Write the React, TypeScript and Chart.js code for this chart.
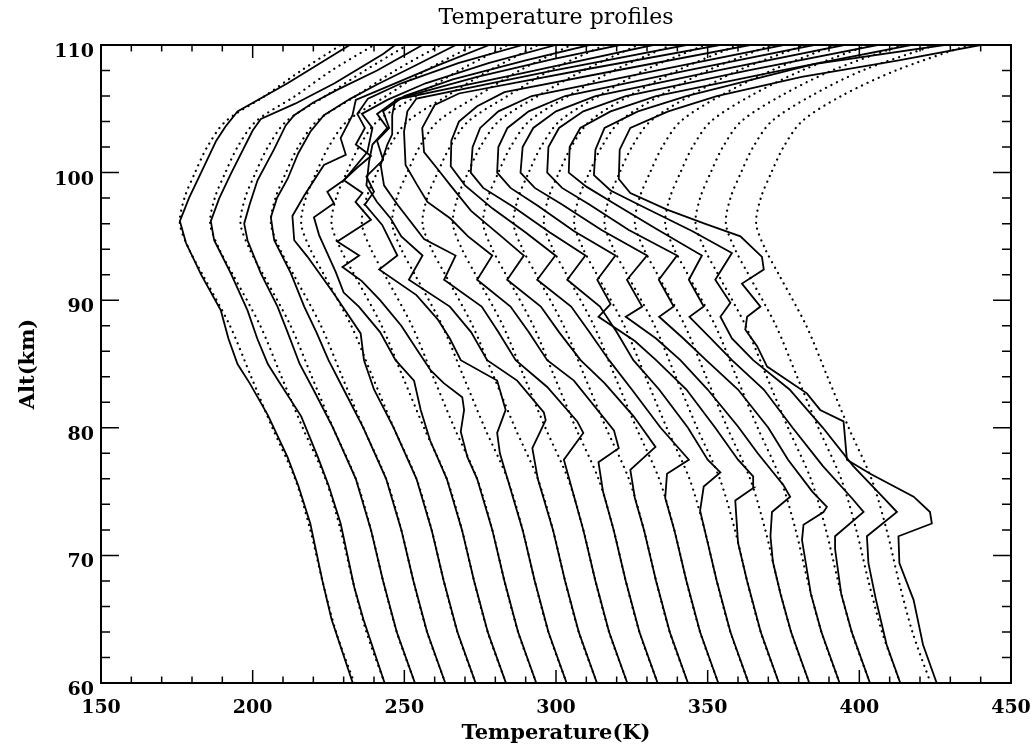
import React, { useEffect, useRef } from "react";
import { Chart, registerables } from "chart.js";

Chart.register(...registerables);

// ---------------- data ----------------
const TITLE = "Temperature profiles";
const X_TITLE = "Temperature(K)";
const Y_TITLE = "Alt(km)";
const X_MIN = 150;
const X_MAX = 450;
const Y_MIN = 60;
const Y_MAX = 110;
const X_MAJOR = 50;
const X_MINOR = 10;
const Y_MAJOR = 10;
const Y_MINOR = 2;

// altitudes (km) of the dotted (reference) profiles
const ALT_DOTTED = [60, 64, 68, 72, 76, 80, 84, 88, 92, 94, 96, 98, 100, 102, 104, 106, 108, 110];

// dotted profiles: temperature (K, with plot offset) at ALT_DOTTED
const DOTTED_01 = [233.5, 227.5, 223, 219, 214, 206.5, 199.5, 192.5, 183.5, 179, 176, 177.5, 181, 185, 191, 204, 216, 229];
const DOTTED_02 = [243.5, 237.5, 233, 229, 224, 216.5, 209.5, 202.5, 193.5, 189, 186, 187.5, 191, 195, 201, 214, 226, 240];
const DOTTED_03 = [253.5, 247.5, 243, 239, 234, 226.5, 219.5, 212.5, 203.5, 199, 196, 197.5, 201, 205, 211, 224, 237, 251];
const DOTTED_04 = [263.5, 257.5, 253, 249, 244, 236.5, 229.5, 222.5, 213.5, 209, 206, 207.5, 211, 215, 221, 234, 247, 262];
const DOTTED_05 = [273.5, 267.5, 263, 259, 254, 246.5, 239.5, 232.5, 223.5, 219, 216, 217.5, 221, 225, 231, 244, 257, 273];
const DOTTED_06 = [283.5, 277.5, 273, 269, 264, 256.5, 249.5, 242.5, 233.5, 229, 226, 227.5, 231, 235, 241, 254, 268, 284];
const DOTTED_07 = [293.5, 287.5, 283, 279, 274, 266.5, 259.5, 252.5, 243.5, 239, 236, 237.5, 241, 245, 251, 264, 278, 294];
const DOTTED_08 = [303.5, 297.5, 293, 289, 284, 276.5, 269.5, 262.5, 253.5, 249, 246, 247.5, 251, 255, 261, 274, 288, 305];
const DOTTED_09 = [313.5, 307.5, 303, 299, 294, 286.5, 279.5, 272.5, 263.5, 259, 256, 257.5, 261, 265, 271, 284, 298, 316];
const DOTTED_10 = [323.5, 317.5, 313, 309, 304, 296.5, 289.5, 282.5, 273.5, 269, 266, 267.5, 271, 275, 281, 294, 309, 327];
const DOTTED_11 = [333.5, 327.5, 323, 319, 314, 306.5, 299.5, 292.5, 283.5, 279, 276, 277.5, 281, 285, 291, 304, 319, 338];
const DOTTED_12 = [343.5, 337.5, 333, 329, 324, 316.5, 309.5, 302.5, 293.5, 289, 286, 287.5, 291, 295, 301, 314, 329, 349];
const DOTTED_13 = [353.5, 347.5, 343, 339, 334, 326.5, 319.5, 312.5, 303.5, 299, 296, 297.5, 301, 305, 311, 324, 340, 360];
const DOTTED_14 = [363.5, 357.5, 353, 349, 344, 336.5, 329.5, 322.5, 313.5, 309, 306, 307.5, 311, 315, 321, 334, 350, 371];
const DOTTED_15 = [373.5, 367.5, 363, 359, 354, 346.5, 339.5, 332.5, 323.5, 319, 316, 317.5, 321, 325, 331, 344, 360, 382];
const DOTTED_16 = [383.5, 377.5, 373, 369, 364, 356.5, 349.5, 342.5, 333.5, 329, 326, 327.5, 331, 335, 341, 354, 371, 392];
const DOTTED_17 = [393.5, 387.5, 383, 379, 374, 366.5, 359.5, 352.5, 343.5, 339, 336, 337.5, 341, 345, 351, 364, 381, 403];
const DOTTED_18 = [403.5, 397.5, 393, 389, 384, 376.5, 369.5, 362.5, 353.5, 349, 346, 347.5, 351, 355, 361, 374, 391, 414];
const DOTTED_19 = [413.5, 407.5, 403, 399, 394, 386.5, 379.5, 372.5, 363.5, 359, 356, 357.5, 361, 365, 371, 384, 401, 425];
const DOTTED_20 = [423.5, 417.5, 413, 409, 404, 396.5, 389.5, 382.5, 373.5, 369, 366, 367.5, 371, 375, 381, 394, 412, 436];

// solid (measured) profiles: [temperature K (with plot offset), altitude km]
const SOLID_01 = [[233, 60], [226, 65], [223, 68], [219, 72.5], [215, 75.5], [211.5, 77.7], [205, 81], [199, 83.5], [195, 85], [192, 87], [189.5, 89.2], [183, 92], [178, 94.5], [176, 96.2], [179, 98], [183, 100], [188, 102.5], [191, 103.6], [195, 104.8], [211.5, 107], [232, 110]];
const SOLID_02 = [[243.5, 60], [236.5, 65], [233.5, 67.5], [229, 72.5], [225, 75.5], [221.5, 77.7], [216, 80.9], [209, 83.5], [205, 85], [201.5, 87], [198.3, 89.2], [192.8, 92.1], [187.3, 94.7], [186.2, 96.2], [189, 98], [192.8, 99.9], [200, 103.3], [202.7, 104.2], [214, 105.4], [227, 107], [243, 109.3], [247, 110]];
const SOLID_03 = [[253.5, 60], [247.5, 64], [243, 68], [239, 72], [234, 76], [226.5, 80], [220, 83], [215.5, 85], [211.5, 87.5], [208.2, 89.5], [202.7, 92.1], [198.3, 94.7], [197.2, 96], [199, 97.5], [201.6, 99.4], [207, 101.8], [210.9, 103.7], [213.7, 104.5], [220, 105.5], [228, 106.5], [241, 108], [256, 110]];
const SOLID_04 = [[263.5, 60], [257.5, 64], [253, 68], [249, 72], [244, 76], [236.5, 80], [230, 83], [225, 85.3], [221, 87.5], [217, 89.5], [212.6, 92.1], [207.1, 94.7], [206, 96.5], [208, 98], [211.5, 99.5], [215, 101.5], [219, 103.2], [223.5, 104.5], [232.3, 105.8], [241, 106.9], [252, 108.2], [267, 110]];
const SOLID_05 = [[273.5, 60], [267.5, 64], [263, 68], [259, 72], [254, 76], [246.5, 80], [240, 83], [236.7, 85.3], [235.6, 87.4], [226.8, 90.5], [218.1, 93.4], [213.7, 94.7], [213.1, 96.6], [217, 98.2], [223.5, 100.6], [230.7, 101.4], [229, 102.7], [232.9, 104.5], [234, 105.7], [245, 106.8], [261, 108.4], [278, 110]];
const SOLID_06 = [[283.5, 60], [277.5, 64], [273, 68], [269, 72], [264, 76], [258.5, 79], [255.4, 81.4], [253.2, 83.7], [247.1, 85.3], [242, 87.5], [235, 89.5], [230, 90.6], [227.4, 92.2], [221.9, 95.1], [220.2, 96.5], [226.8, 97.6], [224.6, 98.5], [230, 99.4], [234.5, 100.4], [239, 101.3], [234, 102.2], [237, 103.5], [234.5, 104.6], [238, 105.8], [249, 107], [268, 108.6], [289, 110]];
const SOLID_07 = [[293.5, 60], [287.5, 64], [283, 68], [279, 72], [274, 76], [270.8, 77.7], [268.6, 79.7], [269.7, 81.4], [269.1, 82.4], [263, 83.5], [258.7, 84.5], [254.5, 86], [249, 88], [242, 90], [236, 91.5], [229.6, 92.6], [235.1, 93.5], [227.9, 94.6], [239, 96.3], [233.9, 97.7], [236.2, 98.4], [230.1, 99.4], [237.8, 101.6], [239.5, 103.5], [236, 104.6], [244.4, 105.7], [257, 107], [278, 108.6], [300, 110]];
const SOLID_08 = [[303.5, 60], [297.5, 64], [293, 68], [289, 72], [284, 76], [281.5, 78], [280.6, 79.6], [283.4, 81.4], [280.6, 83.7], [268.6, 85.3], [265, 87], [261, 88.5], [254, 90.4], [241.7, 92.4], [247.7, 93.5], [242.7, 95.9], [237, 97.5], [240, 98.5], [237.5, 99.7], [243, 101], [241, 102.5], [245, 103.5], [243, 104.8], [250, 106], [266, 107.3], [290, 108.8], [311, 110]];
const SOLID_09 = [[313.5, 60], [307.5, 64], [303, 68], [299, 72], [294, 76], [292.2, 78.4], [296.6, 80.6], [296, 81.2], [287.2, 83.7], [277.3, 85.3], [272, 87.5], [265, 89.5], [251.5, 91.6], [256, 93.5], [249, 95], [245.5, 96.4], [241, 97.7], [237.5, 99], [238.4, 100.9], [239.5, 102.2], [244.4, 103.5], [241, 104.6], [248, 105.8], [274, 107.5], [299, 108.9], [321, 110]];
const SOLID_10 = [[323.5, 60], [317.5, 64], [313, 68], [309, 72], [305.5, 75], [302.6, 77.5], [309, 79.6], [307, 80.5], [297.1, 83.2], [286.7, 85.3], [281, 87.5], [275.5, 89.5], [263.1, 91.6], [266.9, 93.5], [256.5, 94.8], [247.7, 97.5], [243.3, 99], [242.2, 100.6], [244.4, 102.2], [246, 103], [246, 104.5], [247, 105.7], [289, 107.8], [332, 110]];
const SOLID_11 = [[333.5, 60], [327.5, 64], [323, 68], [319, 72], [315.5, 75], [314, 77.3], [320.7, 78.4], [319.1, 79.8], [305.9, 83.7], [297.1, 85.3], [291, 87.5], [285, 89.5], [274, 91.6], [279, 93.5], [271, 95], [265.2, 96.4], [257.6, 97.7], [254.3, 99], [250.4, 100.6], [249.9, 103.2], [251, 104.8], [254, 105.8], [299, 108], [343, 110]];
const SOLID_12 = [[343.5, 60], [337.5, 64], [333, 68], [329, 72], [326, 74.5], [324.5, 76.7], [332.8, 78.5], [325.6, 80.9], [316, 83.5], [308.1, 85.3], [301, 87.5], [295, 89.5], [283.9, 91.6], [289.4, 93.5], [281, 95.2], [272, 97], [265.2, 99], [260.9, 100.3], [256.5, 101.6], [255.9, 103.5], [260, 105.3], [268, 106.2], [310, 108.1], [354, 110]];
const SOLID_13 = [[353.5, 60], [347.5, 64], [343, 68], [339, 72], [336, 74.5], [336.6, 76.4], [343.8, 77.5], [334.5, 80], [325, 83], [317.5, 85.3], [311, 87.5], [305, 89.5], [293.8, 91.6], [299.8, 93.5], [290, 95.3], [279, 97.2], [270, 99], [265.3, 100.5], [265.5, 102.5], [268, 104], [274, 105.2], [283, 106.3], [322, 108.1], [364, 110]];
const SOLID_14 = [[363.5, 60], [357.5, 64], [353, 68], [350, 71], [347.5, 73.5], [348.7, 75.4], [354.2, 76.5], [350, 77.5], [343.5, 80], [334, 83], [325.5, 85.3], [320, 87.5], [314.5, 89.5], [303.7, 91.6], [309.7, 93.5], [298, 95.3], [286, 97.3], [276, 98.8], [271.9, 100], [272.5, 102], [275, 103.5], [281, 104.8], [292, 106], [333, 108], [375, 110]];
const SOLID_15 = [[373.5, 60], [367.5, 64], [363, 68], [360, 71], [359.1, 74.3], [365.2, 75.3], [365, 76.2], [360, 77.5], [352.5, 80], [343, 83], [333, 85.3], [326, 86.8], [314, 88.7], [318, 89.7], [313.6, 91.6], [319.6, 93.5], [306, 95.4], [294, 97.4], [285, 98.8], [280.6, 100], [281, 102], [284, 103.5], [291, 104.8], [303, 106], [343, 108], [385, 110]];
const SOLID_16 = [[383.5, 60], [377.5, 64], [374, 67], [371.5, 69.5], [370.7, 71.5], [371.2, 73.4], [377.2, 74.6], [375, 75.5], [366.5, 78], [360, 80.1], [350, 83], [341, 85.3], [333, 87], [323, 88.7], [328.4, 89.5], [323.4, 91.6], [330, 93.5], [315, 95.5], [302, 97.5], [293, 98.8], [288.3, 100], [289, 102], [292.5, 103.5], [300, 104.8], [313, 106], [353, 108], [395, 110]];
const SOLID_17 = [[393.5, 60], [387.5, 64], [384, 67], [381.1, 71.2], [381.6, 72.4], [388.2, 73.4], [389.3, 73.8], [384.5, 75], [376.5, 77.5], [370, 80], [360, 83], [349.5, 85.3], [342, 87], [334, 88.7], [338.8, 89.5], [333.9, 91.6], [339.9, 93.5], [324, 95.5], [311, 97.5], [302, 98.8], [297.1, 100], [297.5, 102], [301, 103.5], [309, 104.8], [323, 106], [363, 108], [406, 110]];
const SOLID_18 = [[403.5, 60], [397.5, 64], [394, 67], [392, 70.5], [392, 71.5], [401.4, 73.4], [397.5, 74.5], [388, 77], [378, 80], [368.5, 83], [358, 85.3], [351, 87], [344, 88.7], [348.7, 89.5], [343.8, 91.6], [348.1, 93.5], [333, 95.6], [319, 97.6], [310, 98.9], [304.2, 100], [304.5, 102], [308, 103.5], [318, 104.8], [333, 106], [374, 108], [417, 110]];
const SOLID_19 = [[413.5, 60], [409, 63], [405.5, 66.5], [403, 69.4], [402.5, 71.5], [412.4, 73.4], [408, 74.5], [398, 77], [388, 80], [377, 83], [365, 85.3], [358, 87], [354.2, 88.7], [357.5, 89.8], [352.5, 91.6], [358, 93.7], [345, 95.4], [328, 97.4], [318, 98.6], [312.5, 99.8], [313, 101.8], [316, 103.5], [327, 104.8], [343, 106], [385, 108.5], [428, 110]];
const SOLID_20 = [[425.5, 60], [421, 63], [417.9, 66.5], [413.2, 69.4], [412.9, 71.5], [423.9, 72.5], [423.3, 73.4], [417.9, 74.6], [403.6, 76.4], [395.9, 77.5], [394.8, 80.5], [387.1, 81.4], [382.7, 82.7], [369.6, 84.8], [366.3, 86.4], [362.4, 87.7], [363, 88.7], [367.4, 89.5], [361.3, 91.3], [368.5, 92.4], [367.9, 93.4], [360.8, 95], [349, 96], [336.6, 97.1], [324.5, 98.4], [320.7, 99.5], [321, 101.8], [324.5, 103.5], [337, 104.8], [353, 106], [381, 107.5], [413, 108.8], [440, 110]];

const DOTTED = [DOTTED_01, DOTTED_02, DOTTED_03, DOTTED_04, DOTTED_05, DOTTED_06, DOTTED_07, DOTTED_08, DOTTED_09, DOTTED_10,
  DOTTED_11, DOTTED_12, DOTTED_13, DOTTED_14, DOTTED_15, DOTTED_16, DOTTED_17, DOTTED_18, DOTTED_19, DOTTED_20];
const SOLID = [SOLID_01, SOLID_02, SOLID_03, SOLID_04, SOLID_05, SOLID_06, SOLID_07, SOLID_08, SOLID_09, SOLID_10,
  SOLID_11, SOLID_12, SOLID_13, SOLID_14, SOLID_15, SOLID_16, SOLID_17, SOLID_18, SOLID_19, SOLID_20];

// ---------------- styling ----------------
const FONT = "'DejaVu Serif', 'Liberation Serif', serif";
const W = 1033;
const H = 748;

const frameTicksTitle = {
  id: "frameTicksTitle",
  beforeDraw(chart: any) {
    const { ctx } = chart;
    ctx.save();
    ctx.fillStyle = "#fff";
    ctx.fillRect(0, 0, chart.width, chart.height);
    ctx.restore();
  },
  afterDatasetsDraw(chart: any) {
    const { ctx, chartArea: a, scales } = chart;
    const xs = scales.x;
    const ys = scales.y;
    ctx.save();
    ctx.strokeStyle = "#000";
    ctx.lineWidth = 1.5;
    ctx.beginPath();
    for (let v = X_MIN; v <= X_MAX; v += X_MINOR) {
      const px = xs.getPixelForValue(v);
      const len = v % X_MAJOR === 0 ? 13 : 6.5;
      ctx.moveTo(px, a.bottom);
      ctx.lineTo(px, a.bottom - len);
      ctx.moveTo(px, a.top);
      ctx.lineTo(px, a.top + len);
    }
    for (let v = Y_MIN; v <= Y_MAX; v += Y_MINOR) {
      const py = ys.getPixelForValue(v);
      const len = v % Y_MAJOR === 0 ? 18 : 9;
      ctx.moveTo(a.left, py);
      ctx.lineTo(a.left + len, py);
      ctx.moveTo(a.right, py);
      ctx.lineTo(a.right - len, py);
    }
    ctx.stroke();
    ctx.lineWidth = 2;
    ctx.strokeRect(a.left, a.top, a.right - a.left, a.bottom - a.top);
    // chart title, centred over the plot area
    ctx.fillStyle = "#000";
    ctx.font = `normal 22px ${FONT}`;
    ctx.textAlign = "center";
    ctx.textBaseline = "alphabetic";
    ctx.fillText(TITLE, (a.left + a.right) / 2, a.top - 21);
    ctx.restore();
  },
};

export default function App() {
  const ref = useRef<HTMLCanvasElement | null>(null);

  useEffect(() => {
    if (!ref.current) return;
    const datasets: any[] = [];
    DOTTED.forEach((temps, i) => {
      datasets.push({
        label: "model " + (i + 1),
        data: ALT_DOTTED.map((z, k) => ({ x: temps[k], y: z })),
        borderColor: "#000",
        borderWidth: 2.2,
        borderDash: [0.1, 6],
        borderCapStyle: "round",
        pointRadius: 0,
        tension: 0.3,
        fill: false,
      });
    });
    SOLID.forEach((pts, i) => {
      datasets.push({
        label: "profile " + (i + 1),
        data: pts.map(([t, z]) => ({ x: t, y: z })),
        borderColor: "#000",
        borderWidth: 1.8,
        pointRadius: 0,
        tension: 0,
        fill: false,
      });
    });

    const chart = new Chart(ref.current, {
      type: "line",
      data: { datasets },
      plugins: [frameTicksTitle],
      options: {
        responsive: false,
        animation: false,
        devicePixelRatio: 1,
        events: [],
        layout: { padding: { left: 0, right: 22, top: 45, bottom: 0 } },
        plugins: {
          legend: { display: false },
          tooltip: { enabled: false },
          title: { display: false },
        },
        scales: {
          x: {
            type: "linear",
            position: "bottom",
            min: X_MIN,
            max: X_MAX,
            grid: { display: false, drawTicks: false },
            border: { display: false },
            ticks: {
              stepSize: X_MAJOR,
              color: "#000",
              padding: 13.5,
              maxRotation: 0,
              autoSkip: false,
              font: { family: FONT, size: 19, weight: "bold" },
            },
            title: {
              display: true,
              text: X_TITLE,
              color: "#000",
              font: { family: FONT, size: 21, weight: "bold" },
              padding: { top: 0, bottom: 1.4 },
            },
            afterFit: (s: any) => {
              s.height = 65;
              s.paddingLeft = 0;
              s.paddingRight = 0;
            },
          },
          y: {
            type: "linear",
            position: "left",
            min: Y_MIN,
            max: Y_MAX,
            grid: { display: false, drawTicks: false },
            border: { display: false },
            ticks: {
              stepSize: Y_MAJOR,
              color: "#000",
              padding: 7,
              labelOffset: 7,
              autoSkip: false,
              font: { family: FONT, size: 19, weight: "bold" },
            },
            title: {
              display: true,
              text: Y_TITLE,
              color: "#000",
              font: { family: FONT, size: 21, weight: "bold" },
              padding: { top: 16.4, bottom: 0 },
            },
            afterFit: (s: any) => {
              s.width = 101;
              s.paddingTop = 0;
              s.paddingBottom = 0;
            },
          },
        },
      } as any,
    });
    return () => chart.destroy();
  }, []);

  return (
    <div style={{ position: "fixed", left: 0, top: 0, width: W, height: H, background: "#fff" }}>
      <canvas ref={ref} width={W} height={H} style={{ display: "block" }} />
    </div>
  );
}
